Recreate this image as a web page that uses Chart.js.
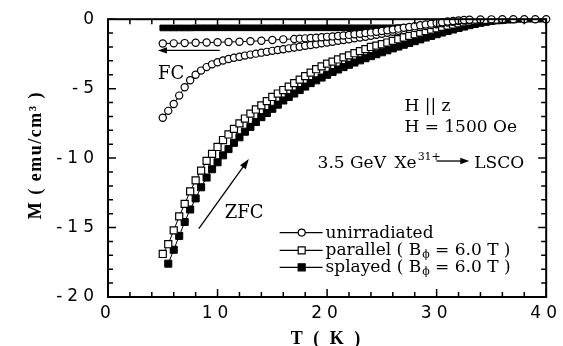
<!DOCTYPE html>
<html>
<head>
<meta charset="utf-8">
<script src="https://cdn.jsdelivr.net/npm/chart.js"></script>
<style>
  html, body { margin: 0; padding: 0; background: #fff; }
  #wrap { width: 563px; height: 346px; position: relative; }
</style>
</head>
<body>
<div id="wrap"><canvas id="mChart"></canvas></div>
<script>
// T (K) and M (emu/cm3)
var tUnirrFc = [5, 6, 7, 8, 9, 10, 11, 12, 13, 14, 15, 16, 17,
  17.5, 18, 18.5, 19, 19.5, 20, 20.5, 21, 21.5, 22, 22.5, 23, 23.5, 24, 24.5, 25, 25.5,
  26, 26.5, 27, 27.5, 28, 28.5, 29, 29.5, 30, 30.5, 31, 31.5, 32, 32.5, 33,
  34, 35, 36, 37, 38, 39, 40];
var mUnirrFc = [-1.75, -1.74, -1.72, -1.7, -1.68, -1.66, -1.64, -1.62, -1.59, -1.55, -1.5, -1.45, -1.42,
  -1.4, -1.38, -1.35, -1.33, -1.3, -1.27, -1.24, -1.21, -1.17, -1.13, -1.09, -1.05, -1.0, -0.95, -0.9, -0.85, -0.8,
  -0.74, -0.68, -0.62, -0.56, -0.5, -0.44, -0.38, -0.32, -0.27, -0.22, -0.17, -0.13, -0.09, -0.06, -0.04,
  -0.02, -0.01, 0, 0, 0, 0, 0];

var tUnirrZfc = [5, 5.5, 6, 6.5, 7, 7.5, 8, 8.5, 9, 9.5, 10, 10.5, 11, 11.5, 12, 12.5, 13, 13.5, 14, 14.5,
  15, 15.5, 16, 16.5, 17, 17.5, 18, 18.5, 19, 19.5, 20, 20.5, 21, 21.5, 22, 22.5, 23, 23.5, 24, 24.5,
  25, 25.5, 26, 26.5, 27, 27.5, 28, 28.5, 29, 29.5, 30, 30.5, 31, 31.5, 32, 32.5, 33, 33.5, 34, 35, 36];
var mUnirrZfc = [-7.1, -6.6, -6.1, -5.5, -4.9, -4.4, -4.0, -3.7, -3.45, -3.25,
  -3.1, -2.97, -2.87, -2.78, -2.7, -2.62, -2.55, -2.48, -2.41, -2.35,
  -2.28, -2.22, -2.16, -2.1, -2.04, -1.98, -1.92, -1.86, -1.8, -1.74,
  -1.68, -1.62, -1.56, -1.5, -1.44, -1.38, -1.32, -1.26, -1.19, -1.12,
  -1.05, -0.98, -0.91, -0.84, -0.77, -0.7, -0.63, -0.56, -0.49, -0.42,
  -0.36, -0.3, -0.24, -0.19, -0.14, -0.1, -0.07, -0.04, -0.02, -0.01, 0];

var tParallelZfc = [5, 5.5, 6, 6.5, 7, 7.5, 8, 8.5, 9, 9.5, 10, 10.5, 11, 11.5, 12, 12.5, 13, 13.5, 14, 14.5,
  15, 15.5, 16, 16.5, 17, 17.5, 18, 18.5, 19, 19.5, 20, 20.5, 21, 21.5, 22, 22.5, 23, 23.5, 24, 24.5,
  25, 25.5, 26, 26.5, 27, 27.5, 28, 28.5, 29, 29.5, 30, 30.5, 31, 31.5, 32, 32.5, 33, 33.5, 34, 34.5,
  35, 35.5, 36];
var mParallelZfc = [-16.9, -16.2, -15.2, -14.2, -13.3, -12.4, -11.6, -10.9, -10.2, -9.7,
  -9.2, -8.7, -8.3, -7.9, -7.5, -7.15, -6.8, -6.5, -6.2, -5.9,
  -5.6, -5.35, -5.1, -4.85, -4.6, -4.35, -4.1, -3.85, -3.6, -3.4,
  -3.2, -3.05, -2.9, -2.75, -2.6, -2.45, -2.3, -2.15, -2.0, -1.9,
  -1.8, -1.68, -1.56, -1.44, -1.32, -1.2, -1.08, -0.96, -0.85, -0.75,
  -0.65, -0.55, -0.46, -0.38, -0.3, -0.23, -0.17, -0.12, -0.08, -0.05,
  -0.03, -0.02, -0.01];

var tSplayedZfc = [5.5, 6, 6.5, 7, 7.5, 8, 8.5, 9, 9.5, 10, 10.5, 11, 11.5, 12, 12.5, 13, 13.5, 14, 14.5, 15,
  15.5, 16, 16.5, 17, 17.5, 18, 18.5, 19, 19.5, 20, 20.5, 21, 21.5, 22, 22.5, 23, 23.5, 24, 24.5, 25,
  25.5, 26, 26.5, 27, 27.5, 28, 28.5, 29, 29.5, 30, 30.5, 31, 31.5, 32, 32.5, 33, 33.5, 34, 34.5, 35,
  35.5, 36, 36.5, 37];
var mSplayedZfc = [-17.6, -16.6, -15.6, -14.6, -13.7, -12.9, -12.1, -11.4, -10.8, -10.3,
  -9.8, -9.35, -8.9, -8.5, -8.1, -7.75, -7.4, -7.05, -6.75, -6.45,
  -6.15, -5.85, -5.6, -5.35, -5.1, -4.85, -4.6, -4.4, -4.2, -4.0,
  -3.8, -3.62, -3.45, -3.28, -3.12, -2.96, -2.81, -2.66, -2.52, -2.38,
  -2.24, -2.1, -1.97, -1.84, -1.71, -1.58, -1.45, -1.32, -1.2, -1.08,
  -0.96, -0.85, -0.74, -0.63, -0.53, -0.43, -0.34, -0.26, -0.19, -0.13,
  -0.08, -0.04, -0.02, 0];

var tSplayedFc = [5, 5.5, 6, 6.5, 7, 7.5, 8, 8.5, 9, 9.5, 10, 10.5, 11, 11.5, 12, 12.5, 13, 13.5, 14, 14.5,
  15, 15.5, 16, 16.5, 17, 17.5, 18, 18.5, 19, 19.5, 20, 20.5, 21, 21.5, 22, 22.5, 23, 23.5, 24, 24.5,
  25, 25.5, 26, 26.5, 27, 27.5, 28, 28.5, 29, 29.5, 30, 30.5, 31, 31.5, 32, 32.5, 33, 33.5, 34, 34.5,
  35, 35.5, 36, 36.5, 37, 37.5, 38, 38.5, 39, 39.5, 40];
var mSplayedFc = [-0.63, -0.63, -0.63, -0.63, -0.63, -0.63, -0.62, -0.62, -0.62, -0.62,
  -0.62, -0.62, -0.62, -0.62, -0.62, -0.62, -0.62, -0.62, -0.62, -0.62,
  -0.62, -0.62, -0.62, -0.62, -0.62, -0.62, -0.62, -0.62, -0.62, -0.62,
  -0.62, -0.62, -0.62, -0.62, -0.62, -0.62, -0.62, -0.62, -0.62, -0.62,
  -0.62, -0.62, -0.62, -0.61, -0.61, -0.6, -0.58, -0.55, -0.52, -0.48,
  -0.44, -0.4, -0.36, -0.32, -0.28, -0.24, -0.2, -0.17, -0.14, -0.11,
  -0.08, -0.06, -0.04, -0.03, -0.02, -0.01, 0, 0, 0, 0, 0];

var xTicks = [0, 10, 20, 30, 40];
var yTicks = [0, -5, -10, -15, -20];
var legendNames = ['unirradiated', 'parallel', 'splayed'];

function pairs(t, m) {
  var out = [];
  for (var i = 0; i < t.length; i++) out.push({ x: t[i], y: m[i] });
  return out;
}

function arrow(ctx, x1, y1, x2, y2, head) {
  var ang = Math.atan2(y2 - y1, x2 - x1);
  ctx.beginPath();
  ctx.moveTo(x1, y1);
  ctx.lineTo(x2 - Math.cos(ang) * head * 0.6, y2 - Math.sin(ang) * head * 0.6);
  ctx.stroke();
  ctx.beginPath();
  ctx.moveTo(x2, y2);
  ctx.lineTo(x2 - head * Math.cos(ang) + head * 0.35 * Math.sin(ang), y2 - head * Math.sin(ang) - head * 0.35 * Math.cos(ang));
  ctx.lineTo(x2 - head * Math.cos(ang) - head * 0.35 * Math.sin(ang), y2 - head * Math.sin(ang) + head * 0.35 * Math.cos(ang));
  ctx.closePath();
  ctx.fill();
}

// frame with inward ticks, axis titles and the annotations
var decor = {
  id: 'decor',
  beforeDraw: function(chart) { chart.ctx.letterSpacing = '5px'; },
  beforeDatasetsDraw: function(chart) { chart.ctx.letterSpacing = '0px'; },
  afterDraw: function(chart) {
    var ctx = chart.ctx, a = chart.chartArea;
    var xs = chart.scales.x, ys = chart.scales.y;
    function px(t) { return xs.getPixelForValue(t); }
    function py(m) { return ys.getPixelForValue(m); }
    ctx.save();
    ctx.letterSpacing = '0px';
    ctx.strokeStyle = '#000';
    ctx.fillStyle = '#000';

    ctx.lineWidth = 2;
    ctx.strokeRect(a.left, a.top, a.right - a.left, a.bottom - a.top);
    ctx.lineWidth = 1.5;
    ctx.beginPath();
    for (var t = 0; t <= 40; t += 2) {
      var x = px(t), lx = (t % 10 === 0) ? 8 : 5;
      ctx.moveTo(x, a.bottom); ctx.lineTo(x, a.bottom - lx);
      ctx.moveTo(x, a.top); ctx.lineTo(x, a.top + lx);
    }
    for (var m = 0; m >= -20; m -= 1) {
      var y = py(m), ly = (m % 5 === 0) ? 8 : 5;
      ctx.moveTo(a.left, y); ctx.lineTo(a.left + ly, y);
      ctx.moveTo(a.right, y); ctx.lineTo(a.right - ly, y);
    }
    ctx.stroke();

    // axis titles
    ctx.font = 'bold 18px "Liberation Serif"';
    ctx.letterSpacing = '1.5px';
    ctx.textAlign = 'center';
    ctx.textBaseline = 'alphabetic';
    ctx.save();
    ctx.translate(41, (a.top + a.bottom) / 2 - 3);
    ctx.rotate(-Math.PI / 2);
    ctx.fillText('M ( emu/cm\u00b3 )', 0, 0);
    ctx.restore();
    ctx.letterSpacing = '3px';
    ctx.fillText('T ( K )', (a.left + a.right) / 2, 344);
    ctx.letterSpacing = '0px';

    // annotations
    ctx.textAlign = 'left';
    ctx.font = '17px "DejaVu Serif"';
    ctx.fillText('H || z', px(27.06), py(-6.64));
    ctx.fillText('H = 1500 Oe', px(27.06), py(-8.14));
    ctx.fillText('3.5 GeV', px(19.13), py(-10.71));
    var xeX = px(26.15);
    ctx.fillText('Xe', xeX, py(-10.71));
    var supX = xeX + ctx.measureText('Xe').width;
    ctx.font = '11px "DejaVu Serif"';
    ctx.fillText('31+', supX + 1, py(-10.71) - 8);
    ctx.font = '17px "DejaVu Serif"';
    ctx.fillText('LSCO', px(33.44), py(-10.71));
    ctx.lineWidth = 1.3;
    arrow(ctx, px(29.98), py(-10.21), px(32.98), py(-10.21), 9);

    ctx.font = '18px "DejaVu Serif"';
    ctx.fillText('FC', px(4.56), py(-4.29));
    arrow(ctx, px(10.2), py(-2.25), px(4.56), py(-2.25), 9);
    ctx.fillText('ZFC', px(10.66), py(-14.29));
    arrow(ctx, px(8.29), py(-15.07), px(12.85), py(-10.07), 10);

    // legend
    var rows = [-15.36, -16.64, -17.86];
    var x1 = px(15.67), x2 = px(19.59), xm = px(17.68), xt = px(19.86);
    ctx.lineWidth = 1.2;
    for (var i = 0; i < rows.length; i++) {
      var ry = py(rows[i]);
      ctx.beginPath(); ctx.moveTo(x1, ry); ctx.lineTo(x2, ry); ctx.stroke();
      ctx.beginPath();
      if (i === 0) ctx.arc(xm, ry, 3.5, 0, Math.PI * 2);
      else ctx.rect(xm - 3.5, ry - 3.5, 7, 7);
      ctx.fillStyle = (i === 2) ? '#000' : '#fff';
      ctx.fill();
      ctx.stroke();
      ctx.fillStyle = '#000';
      ctx.font = '17px "DejaVu Serif"';
      var base = ry + 5;
      if (i === 0) {
        ctx.fillText(legendNames[i], xt, base);
      } else {
        var s1 = legendNames[i] + ' ( B';
        ctx.fillText(s1, xt, base);
        var w = ctx.measureText(s1).width;
        ctx.font = '11px "DejaVu Serif"';
        ctx.fillText('\u03d5', xt + w + 1, base + 3);
        var w2 = ctx.measureText('\u03d5').width;
        ctx.font = '17px "DejaVu Serif"';
        ctx.fillText(' = 6.0 T )', xt + w + w2 + 1, base);
      }
    }
    ctx.restore();
  }
};

var ctx = document.getElementById('mChart');
var chart = new Chart(ctx, {
  type: 'scatter',
  data: {
    datasets: [{
        label: 'unirradiated FC',
        data: pairs(tUnirrFc, mUnirrFc),
        showLine: true, borderColor: '#000', borderWidth: 1,
        pointStyle: 'circle', pointRadius: 3.6, pointBorderWidth: 1.2,
        pointBackgroundColor: '#fff', pointBorderColor: '#000',
        clip: false, order: 1
      },
      {
        label: 'unirradiated ZFC',
        data: pairs(tUnirrZfc, mUnirrZfc),
        showLine: true, borderColor: '#000', borderWidth: 1,
        pointStyle: 'circle', pointRadius: 3.6, pointBorderWidth: 1.2,
        pointBackgroundColor: '#fff', pointBorderColor: '#000',
        order: 1
      },
      {
        label: 'parallel ZFC',
        data: pairs(tParallelZfc, mParallelZfc),
        showLine: true, borderColor: '#000', borderWidth: 1,
        pointStyle: 'rect', pointRadius: 5, pointBorderWidth: 1.2,
        pointBackgroundColor: '#fff', pointBorderColor: '#000',
        order: 2
      },
      {
        label: 'splayed ZFC',
        data: pairs(tSplayedZfc, mSplayedZfc),
        showLine: true, borderColor: '#000', borderWidth: 1,
        pointStyle: 'rect', pointRadius: 5, pointBorderWidth: 1,
        pointBackgroundColor: '#000', pointBorderColor: '#000',
        order: 3
      },
      {
        label: 'splayed FC',
        data: pairs(tSplayedFc, mSplayedFc),
        showLine: true, borderColor: '#000', borderWidth: 1,
        pointStyle: 'rect', pointRadius: 4, pointBorderWidth: 1,
        pointBackgroundColor: '#000', pointBorderColor: '#000',
        order: 3
      }]
  },
  options: {
    responsive: true,
    maintainAspectRatio: false,
    animation: false,
    layout: { padding: { top: 17, right: 16, bottom: 0, left: 0 } },
    plugins: { legend: { display: false }, tooltip: { enabled: false } },
    scales: {
      x: {
        type: 'linear', min: 0, max: 40,
        afterFit: function(s) { s.height = 49; },
        afterBuildTicks: function(s) { s.ticks = xTicks.map(function(v) { return { value: v }; }); },
        grid: { display: false, drawTicks: false },
        border: { display: false },
        ticks: { color: '#000', padding: 6, maxRotation: 0, font: { family: 'DejaVu Sans', size: 17 } }
      },
      y: {
        type: 'linear', min: -20, max: 0,
        afterFit: function(s) { s.width = 108; },
        afterBuildTicks: function(s) { s.ticks = yTicks.map(function(v) { return { value: v }; }); },
        grid: { display: false, drawTicks: false },
        border: { display: false },
        ticks: { color: '#000', padding: 9, font: { family: 'DejaVu Sans', size: 17 } }
      }
    }
  },
  plugins: [decor]
});
</script>
</body>
</html>
